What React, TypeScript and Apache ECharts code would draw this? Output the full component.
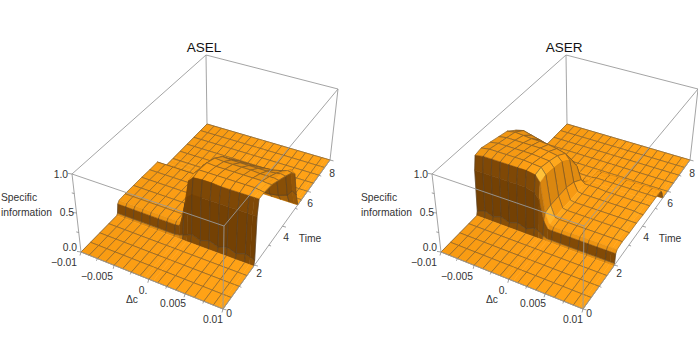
import React, { useEffect, useRef } from "react";
import * as echarts from "echarts";

const W = 698;
const H = 364;
const FONT = "'Liberation Sans', Arial, sans-serif";

const titles = ["ASEL", "ASER"];
const zTicks = ["1.0", "0.5", "0.0"];
const cTicks = ["\u22120.01", "\u22120.005", "0.", "0.005", "0.01"];
const tTicks = ["0", "2", "4", "6", "8"];
const zTickValues = [0, 0.25, 0.5, 0.75, 1];
const cTickValues = [-0.01, -0.0075, -0.005, -0.0025, 0, 0.0025, 0.005, 0.0075, 0.01];
const tTickValues = [0, 1, 2, 3, 4, 5, 6, 7, 8];

const cValues = [
  -0.01, -0.00875, -0.0075, -0.00625, -0.005, -0.00375, -0.0025, -0.00125, -0.0006, 0,
  0.0006, 0.00125, 0.0025, 0.00375, 0.005, 0.00625, 0.0075, 0.00875, 0.0094, 0.01,
];
const tValues = [0, 0.5, 1, 1.5, 1.95, 2, 2.06, 2.15, 2.5, 3, 3.5, 4, 4.5, 4.75, 5, 5.2, 5.4, 5.5, 5.6, 6, 6.5, 7, 7.5, 8];
const FLAT = [0, 0, 0, 0, 0, 0, 0, 0, 0, 0, 0, 0, 0, 0, 0, 0, 0, 0, 0, 0];

const aselZ = [
  FLAT, FLAT, FLAT, FLAT, FLAT,
  [0.02, 0.02, 0.02, 0.02, 0.02, 0.02, 0.02, 0.02, 0.03, 0.05, 0.07, 0.1, 0.06, 0.1, 0.06, 0.1, 0.06, 0.1, 0.08, 0.06],
  [0.13, 0.13, 0.13, 0.13, 0.13, 0.13, 0.13, 0.13, 0.14, 0.3, 0.55, 0.6, 0.6, 0.6, 0.6, 0.6, 0.6, 0.6, 0.6, 0.6],
  [0.16, 0.16, 0.16, 0.16, 0.16, 0.16, 0.16, 0.16, 0.17, 0.42, 0.74, 0.8, 0.81, 0.81, 0.8, 0.8, 0.8, 0.8, 0.8, 0.8],
  [0.165, 0.165, 0.165, 0.165, 0.165, 0.165, 0.165, 0.165, 0.17, 0.44, 0.76, 0.82, 0.82, 0.82, 0.82, 0.82, 0.82, 0.82, 0.81, 0.8],
  [0.165, 0.165, 0.165, 0.165, 0.165, 0.165, 0.165, 0.165, 0.17, 0.42, 0.74, 0.8, 0.79, 0.79, 0.79, 0.79, 0.79, 0.79, 0.78, 0.78],
  [0.165, 0.165, 0.165, 0.165, 0.165, 0.165, 0.165, 0.165, 0.17, 0.42, 0.7, 0.75, 0.74, 0.74, 0.74, 0.74, 0.73, 0.73, 0.73, 0.72],
  [0.16, 0.16, 0.16, 0.16, 0.16, 0.16, 0.16, 0.16, 0.16, 0.42, 0.62, 0.66, 0.65, 0.65, 0.65, 0.65, 0.65, 0.66, 0.67, 0.66],
  [0.16, 0.16, 0.16, 0.16, 0.16, 0.16, 0.16, 0.16, 0.16, 0.3, 0.46, 0.52, 0.53, 0.53, 0.53, 0.54, 0.55, 0.58, 0.6, 0.59],
  [0.05, 0.05, 0.05, 0.05, 0.05, 0.05, 0.05, 0.05, 0.05, 0.14, 0.24, 0.3, 0.33, 0.35, 0.37, 0.38, 0.42, 0.48, 0.56, 0.52],
  [0, 0, 0, 0, 0, 0, 0, 0, 0, 0.02, 0.04, 0.05, 0.06, 0.07, 0.08, 0.08, 0.1, 0.14, 0.22, 0.18],
  FLAT, FLAT, FLAT, FLAT, FLAT, FLAT, FLAT, FLAT, FLAT,
];

const aserZ = [
  FLAT, FLAT, FLAT, FLAT, FLAT,
  [0.05, 0.09, 0.05, 0.09, 0.05, 0.09, 0.05, 0.1, 0.08, 0.04, 0.02, 0.02, 0.02, 0.02, 0.02, 0.02, 0.02, 0.02, 0.02, 0.02],
  [0.58, 0.58, 0.58, 0.58, 0.58, 0.58, 0.58, 0.55, 0.48, 0.22, 0.13, 0.13, 0.13, 0.13, 0.13, 0.13, 0.13, 0.13, 0.13, 0.13],
  [0.76, 0.78, 0.78, 0.78, 0.78, 0.78, 0.78, 0.76, 0.68, 0.3, 0.17, 0.16, 0.16, 0.16, 0.16, 0.16, 0.16, 0.16, 0.16, 0.16],
  [0.78, 0.8, 0.8, 0.8, 0.8, 0.8, 0.79, 0.78, 0.7, 0.32, 0.18, 0.17, 0.17, 0.17, 0.17, 0.17, 0.17, 0.17, 0.17, 0.17],
  [0.75, 0.77, 0.77, 0.77, 0.77, 0.77, 0.76, 0.75, 0.68, 0.32, 0.18, 0.17, 0.17, 0.17, 0.17, 0.17, 0.17, 0.17, 0.16, 0.16],
  [0.72, 0.74, 0.74, 0.74, 0.74, 0.74, 0.73, 0.71, 0.65, 0.32, 0.17, 0.16, 0.16, 0.16, 0.16, 0.16, 0.16, 0.16, 0.16, 0.16],
  [0.69, 0.71, 0.7, 0.69, 0.69, 0.68, 0.66, 0.63, 0.56, 0.28, 0.17, 0.16, 0.16, 0.16, 0.16, 0.16, 0.16, 0.16, 0.15, 0.15],
  [0.6, 0.63, 0.6, 0.57, 0.54, 0.5, 0.47, 0.42, 0.36, 0.2, 0.16, 0.16, 0.16, 0.15, 0.15, 0.15, 0.15, 0.15, 0.15, 0.15],
  [0, 0, 0, 0, 0, 0, 0, 0, 0.03, 0.12, 0.15, 0.15, 0.15, 0.15, 0.15, 0.15, 0.15, 0.15, 0.15, 0.15],
  [0, 0, 0, 0, 0, 0, 0, 0, 0, 0.02, 0.14, 0.15, 0.15, 0.15, 0.15, 0.15, 0.15, 0.15, 0.15, 0.15],
  [0, 0, 0, 0, 0, 0, 0, 0, 0, 0, 0.14, 0.15, 0.15, 0.15, 0.15, 0.15, 0.15, 0.15, 0.15, 0.15],
  [0, 0, 0, 0, 0, 0, 0, 0, 0, 0, 0.13, 0.14, 0.14, 0.14, 0.14, 0.14, 0.14, 0.14, 0.14, 0.14],
  [0, 0, 0, 0, 0, 0, 0, 0, 0, 0, 0.08, 0.09, 0.09, 0.09, 0.09, 0.09, 0.09, 0.09, 0.09, 0.09],
  FLAT, FLAT, FLAT, FLAT, FLAT, FLAT,
];

// Box corners on screen for the left plot; the right plot is the same box shifted.
const PLOT_SHIFT = 360;
const floorQuad = [[81, 252], [223, 309], [330, 160], [207, 124]];
const topQuad = [[72, 174], [224, 226], [338, 89], [206, 55]];

function homography(q: number[][]) {
  const [[x0, y0], [x1, y1], [x2, y2], [x3, y3]] = q;
  const dx1 = x1 - x2, dx2 = x3 - x2, sx = x0 - x1 + x2 - x3;
  const dy1 = y1 - y2, dy2 = y3 - y2, sy = y0 - y1 + y2 - y3;
  const d = dx1 * dy2 - dx2 * dy1;
  const g = (sx * dy2 - dx2 * sy) / d;
  const h = (dx1 * sy - sx * dy1) / d;
  const a = x1 - x0 + g * x1, b = x3 - x0 + h * x3;
  const e = y1 - y0 + g * y1, f = y3 - y0 + h * y3;
  return (u: number, v: number) => {
    const k = g * u + h * v + 1;
    return [(a * u + b * v + x0) / k, (e * u + f * v + y0) / k];
  };
}
const floorMap = homography(floorQuad);
const topMap = homography(topQuad);

function project(c: number, t: number, z: number, shift: number) {
  const u = (c + 0.01) / 0.02;
  const v = t / 8;
  const p = floorMap(u, v);
  const q = topMap(u, v);
  return [p[0] * (1 - z) + q[0] * z + shift, p[1] * (1 - z) + q[1] * z];
}

function isMesh(value: number, step: number, origin: number) {
  const r = (value - origin) / step;
  return Math.abs(r - Math.round(r)) < 1e-6;
}
const meshC = cValues.map((c) => isMesh(c, 0.00125, -0.01));
const meshT = tValues.map((t) => isMesh(t, 0.5, 0));

function mix(a: number[], b: number[], k: number) {
  return a.map((v, i) => Math.round(v + (b[i] - v) * k));
}
function shade(I: number) {
  const dark = [112, 62, 4];
  const base = [255, 160, 20];
  const hi = [255, 205, 70];
  const rgb = I <= 1 ? mix(dark, base, Math.max(0, (I - 0.42) / 0.58)) : mix(base, hi, Math.min(1, (I - 1) / 0.3));
  return `rgb(${rgb[0]},${rgb[1]},${rgb[2]})`;
}

const MESH = "rgba(70,60,52,0.62)";
const FRAME = "#9a9a9a";

function surfaceSeries(matrix: number[][], shift: number) {
  const cells: number[][] = [];
  for (let j = tValues.length - 2; j >= 0; j--) {
    for (let i = 0; i < cValues.length - 1; i++) cells.push([i, j]);
  }
  return {
    type: "custom",
    coordinateSystem: "cartesian2d",
    clip: false,
    silent: true,
    z: 2,
    data: cells,
    renderItem: (_p: any, api: any) => {
      const i = api.value(0);
      const j = api.value(1);
      const c0 = cValues[i], c1 = cValues[i + 1], t0 = tValues[j], t1 = tValues[j + 1];
      const z00 = matrix[j][i], z10 = matrix[j][i + 1], z01 = matrix[j + 1][i], z11 = matrix[j + 1][i + 1];
      const P = (c: number, t: number, z: number) => api.coord(project(c, t, z, shift));
      const a = P(c0, t0, z00), b = P(c1, t0, z10), d = P(c1, t1, z11), e = P(c0, t1, z01);
      const dzdu = (((z10 - z00) + (z11 - z01)) / 2) * 0.55 / ((c1 - c0) / 0.02);
      const dzdv = (((z01 - z00) + (z11 - z10)) / 2) * 0.55 / ((t1 - t0) / 8);
      const len = Math.hypot(dzdu, dzdv, 1);
      const nx = -dzdu / len, ny = -dzdv / len, nz = 1 / len;
      const u = (c0 + 0.01) / 0.02;
      let I = 0.42 + 0.58 * nz + 0.35 * Math.max(nx, 0);
      if (nz > 0.25 && nz < 0.9 && ny < 0) I += 0.18;
      if (nz > 0.95) I *= 0.97 + 0.05 * u;
      const fill = shade(I);
      const children: any[] = [
        {
          type: "polygon",
          shape: { points: [a, b, d, e] },
          style: { fill, stroke: fill, lineWidth: 0.5 },
        },
      ];
      const line = (p: number[], q: number[]) => ({
        type: "line",
        shape: { x1: p[0], y1: p[1], x2: q[0], y2: q[1] },
        style: { stroke: MESH, lineWidth: 0.7 },
      });
      if (meshC[i]) children.push(line(a, e));
      if (meshC[i + 1]) children.push(line(b, d));
      if (meshT[j]) children.push(line(a, b));
      if (meshT[j + 1]) children.push(line(e, d));
      return { type: "group", children };
    },
  };
}

const C0 = -0.01, C1 = 0.01, T0 = 0, T1 = 8;
const backEdges = [
  [C0, T1, 0, C0, T1, 1],
  [C1, T1, 0, C1, T1, 1],
  [C0, T1, 1, C1, T1, 1],
  [C0, T0, 1, C0, T1, 1],
  [C0, T1, 0, C1, T1, 0],
  [C0, T0, 0, C0, T1, 0],
];
const frontEdges = [
  [C0, T0, 0, C0, T0, 1],
  [C1, T0, 0, C1, T0, 1],
  [C0, T0, 1, C1, T0, 1],
  [C1, T0, 1, C1, T1, 1],
  [C0, T0, 0, C1, T0, 0],
  [C1, T0, 0, C1, T1, 0],
];

function frameSeries(edges: number[][], shift: number, z: number) {
  return {
    type: "custom",
    coordinateSystem: "cartesian2d",
    clip: false,
    silent: true,
    z,
    data: edges,
    renderItem: (_p: any, api: any) => {
      const p = api.coord(project(api.value(0), api.value(1), api.value(2), shift));
      const q = api.coord(project(api.value(3), api.value(4), api.value(5), shift));
      return {
        type: "line",
        shape: { x1: p[0], y1: p[1], x2: q[0], y2: q[1] },
        style: { stroke: FRAME, lineWidth: 0.9 },
      };
    },
  };
}

function tickSeries(shift: number) {
  const data: number[][] = [];
  zTickValues.forEach((v, i) => data.push([C0, T0, v, -(i % 2 === 0 ? 4 : 2.5), -0.6]));
  cTickValues.forEach((v, i) => data.push([v, T0, 0, -1, i % 2 === 0 ? 3.5 : 2.2]));
  tTickValues.forEach((v, i) => data.push([C1, v, 0, i % 2 === 0 ? 3.5 : 2.2, 0.9]));
  return {
    type: "custom",
    coordinateSystem: "cartesian2d",
    clip: false,
    silent: true,
    z: 4,
    data,
    renderItem: (_p: any, api: any) => {
      const p = api.coord(project(api.value(0), api.value(1), api.value(2), shift));
      return {
        type: "line",
        shape: { x1: p[0], y1: p[1], x2: p[0] + api.value(3), y2: p[1] + api.value(4) },
        style: { stroke: "#777", lineWidth: 0.7 },
      };
    },
  };
}

function labels(shift: number, title: string) {
  const text = (s: string, x: number, y: number, align: string, size = 10.3, fill = "#333") => ({
    type: "text",
    x: x + shift,
    y,
    silent: true,
    z: 10,
    style: { text: s, fill, font: `${size}px ${FONT}`, textAlign: align, textVerticalAlign: "middle" },
  });
  return [
    text(title, 204, 47, "center", 13.5, "#111"),
    text(zTicks[0], 68, 174, "right"),
    text(zTicks[1], 74, 212, "right"),
    text(zTicks[2], 77, 247, "right"),
    text(cTicks[0], 77, 262, "right"),
    text(cTicks[1], 97, 276, "center"),
    text(cTicks[2], 143, 290, "center"),
    text(cTicks[3], 173, 303, "center"),
    text(cTicks[4], 213, 319, "center"),
    text(tTicks[0], 229, 313, "center"),
    text(tTicks[1], 259, 273, "center"),
    text(tTicks[2], 286, 237, "center"),
    text(tTicks[3], 310, 203, "center"),
    text(tTicks[4], 332, 173, "center"),
    text("Time", 310, 238, "center"),
    text("\u0394c", 132, 299, "center"),
    text("Specific", 1, 197, "left"),
    text("information", 1, 212, "left"),
  ];
}

export default function App() {
  const ref = useRef<HTMLDivElement>(null);
  useEffect(() => {
    document.body.style.margin = "0";
    const chart = echarts.init(ref.current!, undefined, { renderer: "svg" });
    chart.setOption({
      animation: false,
      backgroundColor: "#fff",
      grid: { left: 0, top: 0, right: 0, bottom: 0 },
      xAxis: { type: "value", min: 0, max: W, show: false },
      yAxis: { type: "value", min: 0, max: H, inverse: true, show: false },
      series: [
        frameSeries(backEdges, 0, 1),
        surfaceSeries(aselZ, 0),
        frameSeries(frontEdges, 0, 3),
        tickSeries(0),
        frameSeries(backEdges, PLOT_SHIFT, 1),
        surfaceSeries(aserZ, PLOT_SHIFT),
        frameSeries(frontEdges, PLOT_SHIFT, 3),
        tickSeries(PLOT_SHIFT),
      ],
      graphic: [...labels(0, titles[0]), ...labels(PLOT_SHIFT, titles[1])],
    });
    return () => chart.dispose();
  }, []);
  return <div ref={ref} style={{ width: W, height: H }} />;
}
